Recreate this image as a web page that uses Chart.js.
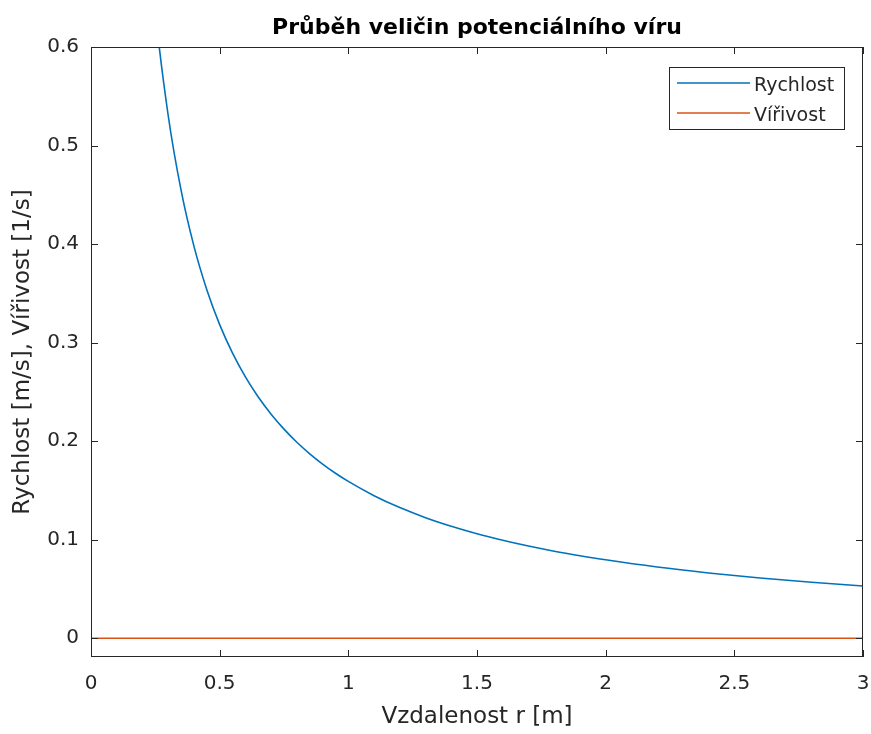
<!DOCTYPE html>
<html>
<head>
<meta charset="utf-8">
<script src="https://cdn.jsdelivr.net/npm/chart.js@4/dist/chart.umd.min.js"></script>
<style>
  html, body { margin: 0; padding: 0; background: #fff; }
  #wrap { width: 871px; height: 734px; }
</style>
</head>
<body>
<div id="wrap"><canvas id="c" width="871" height="734"></canvas></div>
<script>
const chartTitle = "Průběh veličin potenciálního víru";
const xAxisTitle = "Vzdalenost r [m]";
const yAxisTitle = "Rychlost [m/s], Vířivost [1/s]";

const seriesNames = ["Rychlost", "Vířivost"];

// Rychlost (velocity)
const rVelocity = [0.20, 0.25, 0.30, 0.35, 0.40, 0.45, 0.50, 0.55, 0.60, 0.65, 0.70, 0.75, 0.80, 0.85, 0.90, 0.95, 1.00,
                   1.10, 1.20, 1.30, 1.40, 1.50, 1.60, 1.70, 1.80, 1.90, 2.00, 2.20, 2.40, 2.60, 2.80, 3.00];
const velocity  = [0.7958, 0.6366, 0.5305, 0.4547, 0.3979, 0.3537, 0.3183, 0.2894, 0.2653, 0.2449, 0.2274, 0.2122, 0.1989, 0.1872, 0.1768, 0.1675, 0.1592,
                   0.1447, 0.1326, 0.1224, 0.1137, 0.1061, 0.0995, 0.0936, 0.0884, 0.0838, 0.0796, 0.0723, 0.0663, 0.0612, 0.0568, 0.0531];

// Vířivost (vorticity)
const rVorticity = [0, 0.5, 1.0, 1.5, 2.0, 2.5, 3.0];
const vorticity  = [0, 0, 0, 0, 0, 0, 0];

const xTicks = [0, 0.5, 1, 1.5, 2, 2.5, 3];
const yTicks = [0, 0.1, 0.2, 0.3, 0.4, 0.5, 0.6];
const xRange = [0, 3];
const yRange = [-0.019, 0.6];

const AXIS_COLOR = '#262626';
const COLORS = ['#0072BD', '#D95319'];

const matlabPlugin = {
  id: 'matlabDecor',
  afterDatasetsDraw(chart) {
    const ctx = chart.ctx;
    const a = chart.chartArea;
    const xs = chart.scales.x, ys = chart.scales.y;
    ctx.save();
    // axes box
    ctx.strokeStyle = AXIS_COLOR;
    ctx.lineWidth = 1;
    ctx.strokeRect(Math.round(a.left) + 0.5, Math.round(a.top) + 0.5,
                   Math.round(a.right - a.left) - 1, Math.round(a.bottom - a.top) - 1);
    // inward ticks
    const tl = 7;
    ctx.beginPath();
    xs.ticks.forEach(t => {
      const px = Math.round(xs.getPixelForValue(t.value)) + 0.5;
      ctx.moveTo(px, a.bottom); ctx.lineTo(px, a.bottom - tl);
      ctx.moveTo(px, a.top); ctx.lineTo(px, a.top + tl);
    });
    ys.ticks.forEach(t => {
      const py = Math.round(ys.getPixelForValue(t.value)) + 0.5;
      ctx.moveTo(a.left, py); ctx.lineTo(a.left + tl, py);
      ctx.moveTo(a.right, py); ctx.lineTo(a.right - tl, py);
    });
    ctx.stroke();

    // title
    ctx.fillStyle = '#000';
    ctx.font = 'bold 22px "DejaVu Sans"';
    ctx.textAlign = 'center';
    ctx.textBaseline = 'alphabetic';
    ctx.fillText(chartTitle, (a.left + a.right) / 2, 34);

    // legend
    const bx = 669.5, by = 67.5, bw = 175, bh = 62;
    ctx.fillStyle = '#fff';
    ctx.fillRect(bx, by, bw, bh);
    ctx.strokeStyle = AXIS_COLOR;
    ctx.lineWidth = 1;
    ctx.strokeRect(bx, by, bw, bh);
    ctx.font = '19px "DejaVu Sans"';
    ctx.textAlign = 'left';
    chart.data.datasets.forEach((ds, i) => {
      const ly = 83 + i * 30;
      ctx.strokeStyle = ds.borderColor;
      ctx.lineWidth = 1.5;
      ctx.beginPath();
      ctx.moveTo(677, ly); ctx.lineTo(750, ly);
      ctx.stroke();
      ctx.fillStyle = AXIS_COLOR;
      ctx.fillText(ds.label, 754, ly + 8);
    });
    ctx.restore();
  }
};

new Chart(document.getElementById('c'), {
  type: 'line',
  data: {
    datasets: [
      {
        label: seriesNames[0],
        data: rVelocity.map((r, i) => ({ x: r, y: velocity[i] })),
        borderColor: COLORS[0],
        borderWidth: 1.6,
        pointRadius: 0,
        fill: false,
        cubicInterpolationMode: 'monotone'
      },
      {
        label: seriesNames[1],
        data: rVorticity.map((r, i) => ({ x: r, y: vorticity[i] })),
        borderColor: COLORS[1],
        borderWidth: 1.6,
        pointRadius: 0,
        fill: false
      }
    ]
  },
  options: {
    responsive: false,
    animation: false,
    layout: { padding: { top: 47, right: 8, left: 0, bottom: 0 } },
    plugins: {
      legend: { display: false },
      title: { display: false },
      tooltip: { enabled: false }
    },
    scales: {
      x: {
        type: 'linear',
        min: xRange[0], max: xRange[1],
        grid: { display: false, drawTicks: false },
        border: { display: false },
        afterBuildTicks: s => { s.ticks = xTicks.map(v => ({ value: v })); },
        afterFit: s => { s.height = 77; s.paddingLeft = 0; s.paddingRight = 0; },
        ticks: {
          color: AXIS_COLOR,
          font: { family: 'DejaVu Sans', size: 20 },
          padding: 15,
          maxRotation: 0,
          callback: v => String(v)
        },
        title: {
          display: true,
          text: xAxisTitle,
          color: AXIS_COLOR,
          font: { family: 'DejaVu Sans', size: 23 },
          padding: { top: 0, bottom: 3 }
        }
      },
      y: {
        type: 'linear',
        min: yRange[0], max: yRange[1],
        grid: { display: false, drawTicks: false },
        border: { display: false },
        afterBuildTicks: s => { s.ticks = yTicks.map(v => ({ value: v })); },
        afterFit: s => { s.width = 91; s.paddingTop = 0; s.paddingBottom = 0; },
        ticks: {
          color: AXIS_COLOR,
          font: { family: 'DejaVu Sans', size: 20 },
          padding: 12,
          callback: v => String(v)
        },
        title: {
          display: true,
          text: yAxisTitle,
          color: AXIS_COLOR,
          font: { family: 'DejaVu Sans', size: 23 },
          padding: { top: 9, bottom: 0 }
        }
      }
    }
  },
  plugins: [matlabPlugin]
});
</script>
</body>
</html>
